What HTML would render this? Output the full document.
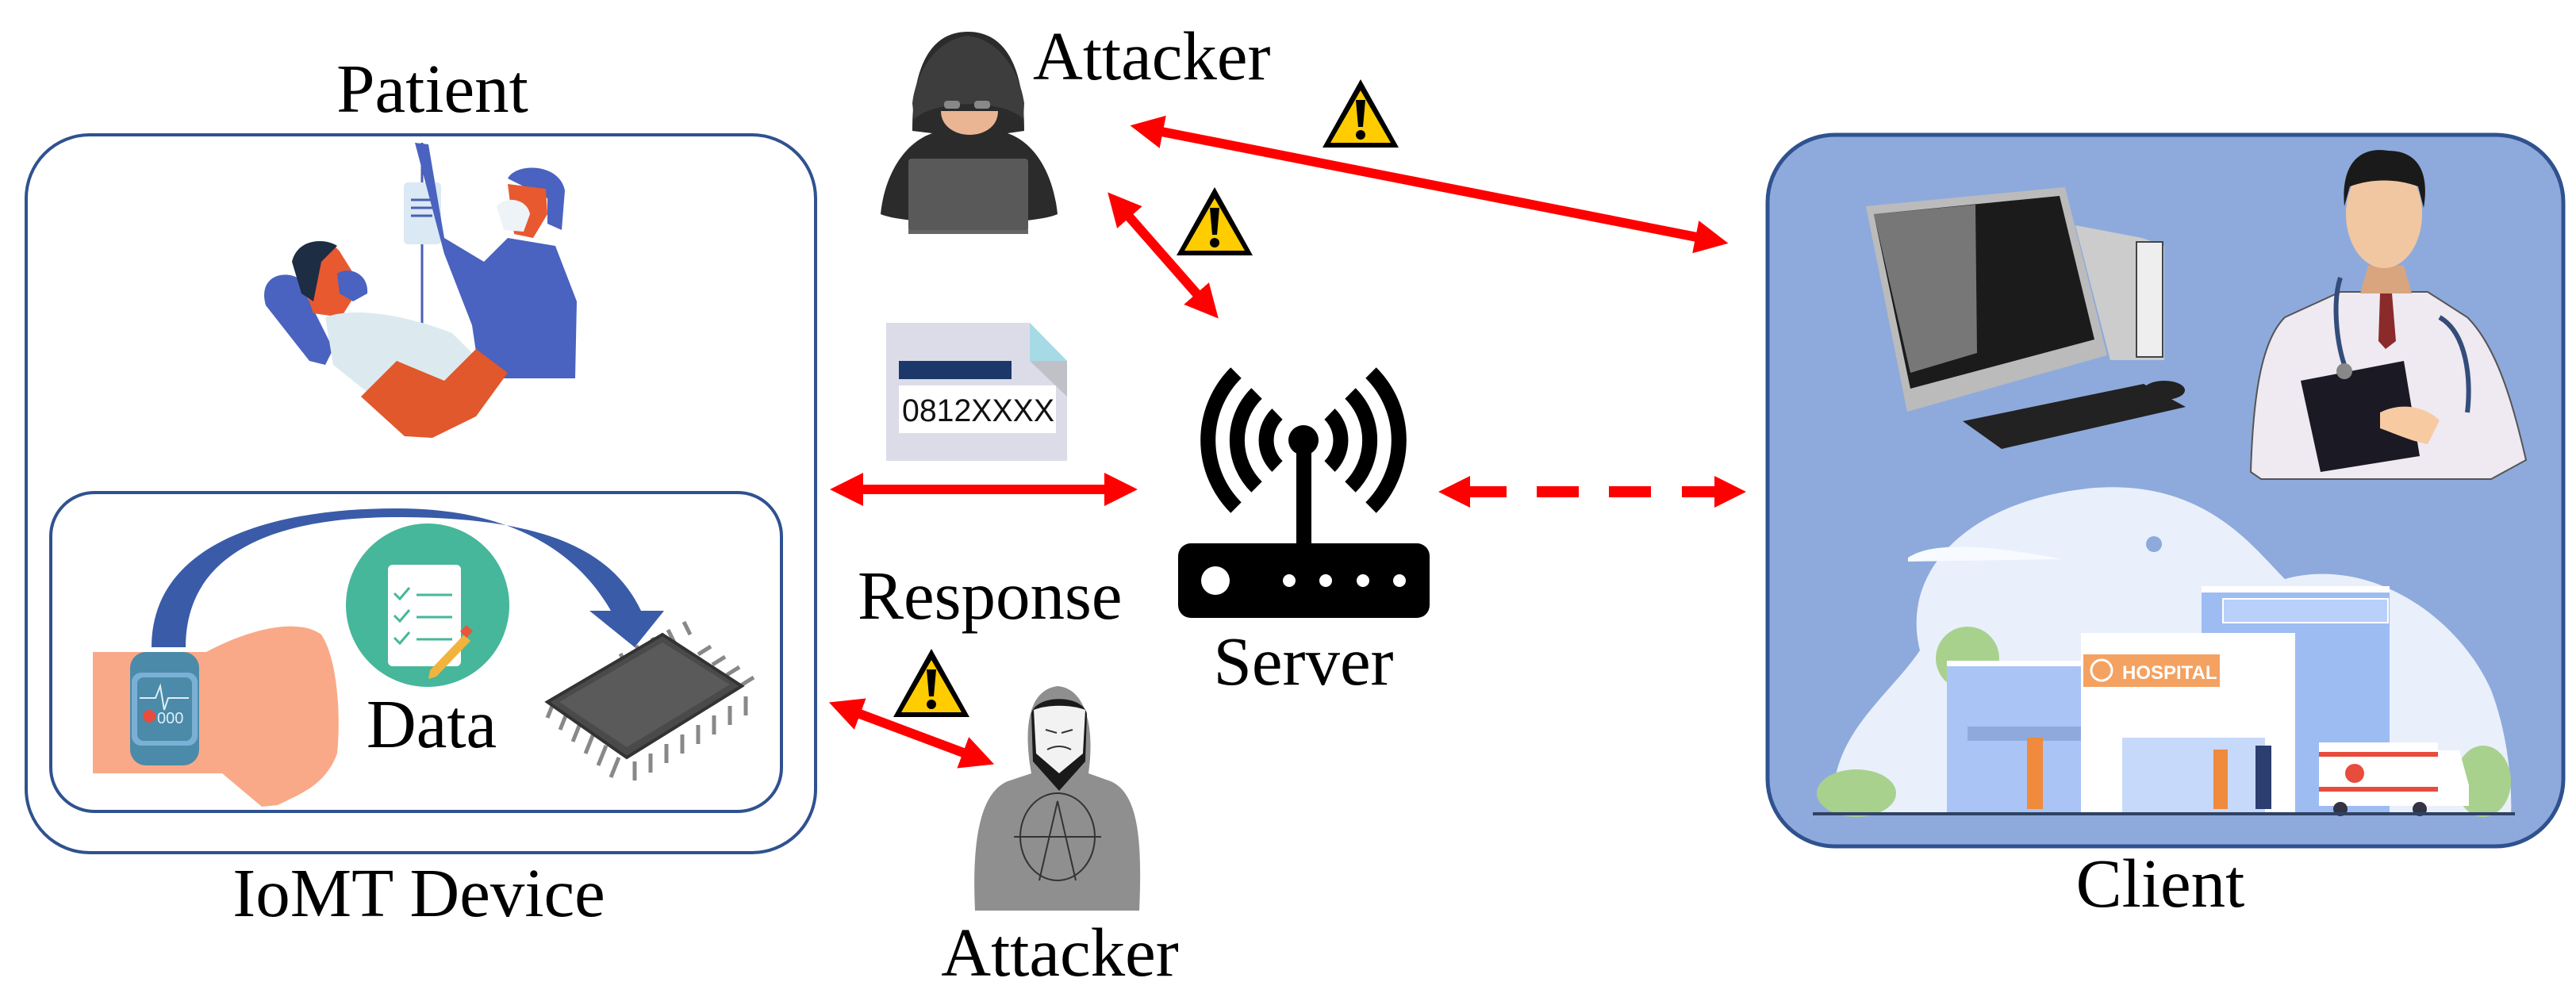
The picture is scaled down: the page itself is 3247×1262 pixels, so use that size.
<!DOCTYPE html>
<html><head><meta charset="utf-8"><style>
html,body{margin:0;padding:0;background:#fff;}
svg{display:block;}
text{font-family:"Liberation Serif",serif;}
</style></head><body>
<svg width="3247" height="1262" viewBox="0 0 3247 1262" xmlns="http://www.w3.org/2000/svg">
<defs>
<marker id="ah" markerUnits="userSpaceOnUse" markerWidth="44" markerHeight="44" refX="12" refY="21" orient="auto-start-reverse">
<path d="M0,0 L42,21 L0,42 z" fill="#ff0000"/>
</marker>
<g id="warn">
<polygon points="0,-44 48,42 -48,42" fill="#000"/>
<polygon points="0,-30 38,36 -38,36" fill="#ffcc00"/>
<path d="M-6,-18 L6,-18 L3,16 L-3,16 z" fill="#000"/>
<circle cx="0" cy="26" r="6" fill="#000"/>
</g>
</defs>

<!-- LEFT BOX -->
<rect x="33" y="170" width="995" height="905" rx="80" fill="none" stroke="#2f528f" stroke-width="4"/>
<rect x="64" y="621" width="921" height="402" rx="55" fill="none" stroke="#2f528f" stroke-width="4"/>

<!-- patient illustration -->
<line x1="532" y1="180" x2="532" y2="414" stroke="#4a5fb5" stroke-width="3"/>
<rect x="509" y="230" width="47" height="78" rx="5" fill="#dbe9f4"/>
<line x1="518" y1="252" x2="545" y2="252" stroke="#4a5fb5" stroke-width="3"/>
<line x1="518" y1="262" x2="545" y2="262" stroke="#4a5fb5" stroke-width="3"/>
<line x1="518" y1="272" x2="545" y2="272" stroke="#4a5fb5" stroke-width="3"/>
<path d="M523,180 L540,182 L560,300 L610,330 L640,300 L700,310 L727,380 L725,477 L605,477 L595,410 L560,320 Z" fill="#4a62c0"/>
<path d="M640,225 C650,205 705,205 712,240 L708,290 L690,282 L690,250 Z" fill="#4a62c0"/>
<path d="M640,232 L688,238 L690,270 L672,300 L648,295 Z" fill="#e8592f"/>
<path d="M626,260 C640,245 665,252 668,270 L660,292 L635,290 Z" fill="#eef3f7"/>
<path d="M335,385 C325,350 355,340 375,350 L420,440 L410,460 L390,455 Z" fill="#4a62c0"/>
<path d="M372,330 C380,300 420,300 430,320 L455,360 L430,400 L395,395 Z" fill="#e8592f"/>
<path d="M368,330 C375,300 410,300 425,310 L405,330 L395,380 L380,370 Z" fill="#1c2d44"/>
<path d="M425,345 C440,335 465,345 463,370 L445,380 L428,370 Z" fill="#4a62c0"/>
<path d="M410,400 C450,385 520,400 570,420 L600,450 L590,500 L470,500 L420,460 Z" fill="#dceaf0"/>
<path d="M455,500 L500,455 L560,480 L600,440 L640,470 L600,525 L545,552 L510,550 Z" fill="#e0582b"/>

<!-- blue arc arrow -->
<path d="M191,816 C191,690 330,641 500,641 C650,641 730,700 770,770 L743,770 L800,816 L837,770 L808,770 C770,690 680,652 500,652 C340,652 234,700 234,816 Z" fill="#3a5ba8"/>
<!-- green circle -->
<circle cx="539" cy="763" r="103" fill="#46b79a"/>
<rect x="489" y="712" width="92" height="128" rx="6" fill="#fff"/>
<g stroke="#46b79a" stroke-width="3" fill="none">
<path d="M497,748 l7,7 l12,-14"/><path d="M497,776 l7,7 l12,-14"/><path d="M497,804 l7,7 l12,-14"/>
<line x1="525" y1="750" x2="570" y2="750"/><line x1="525" y1="778" x2="570" y2="778"/><line x1="525" y1="806" x2="570" y2="806"/>
</g>
<path d="M542,845 L585,800 L593,808 L550,853 L540,856 Z" fill="#f2b33d"/>
<path d="M580,796 L588,788 L596,796 L588,804 Z" fill="#e8553a"/>
<!-- arm with watch -->
<path d="M117,822 L260,822 C300,800 370,775 405,800 C425,830 430,900 425,950 C410,990 380,1000 350,1015 L330,1017 L280,975 L117,975 Z" fill="#f9a987"/>
<rect x="164" y="822" width="87" height="143" rx="20" fill="#4b8aa8"/>
<rect x="166" y="848" width="83" height="92" rx="12" fill="#7bb0d6"/>
<rect x="173" y="854" width="69" height="80" rx="8" fill="#4b8aa8"/>
<path d="M176,880 L196,880 L202,865 L207,895 L212,880 L238,880" stroke="#dfeef7" stroke-width="2" fill="none"/>
<circle cx="188" cy="903" r="8" fill="#e74c3c"/>
<text x="198" y="912" style="font-family:'Liberation Sans',sans-serif" font-size="20" fill="#dfeef7">000</text>
<!-- chip -->
<g stroke="#888" stroke-width="5" fill="none">
<path d="M700,880 l-10,25 M716,895 l-10,25 M732,910 l-10,25 M748,925 l-10,25 M764,940 l-10,25 M780,955 l-10,25"/>
<path d="M800,960 l0,24 M820,950 l0,24 M840,938 l0,24 M860,926 l0,24 M880,914 l0,24 M900,902 l0,24 M920,890 l0,24 M940,878 l0,24"/>
<path d="M790,840 l-8,-16 M810,830 l-8,-16 M830,820 l-8,-16 M850,810 l-8,-16 M870,800 l-8,-16"/>
<path d="M880,825 l16,-10 M898,838 l16,-10 M916,851 l16,-10 M934,864 l16,-10"/>
</g>
<polygon points="690,885 835,800 935,865 790,955" fill="#4a4a4a" stroke="#333" stroke-width="4"/>
<polygon points="705,885 835,810 920,863 790,942" fill="#5a5a5a"/>

<!-- texts left -->
<text x="545" y="141" font-size="87" text-anchor="middle">Patient</text>
<text x="544" y="942" font-size="87" text-anchor="middle">Data</text>
<text x="528" y="1155" font-size="87" text-anchor="middle">IoMT Device</text>

<!-- TOP ATTACKER -->
<path d="M1110,270 C1115,220 1140,180 1175,168 L1150,165 C1150,80 1175,40 1220,40 C1265,40 1291,80 1291,165 L1270,168 C1305,180 1328,220 1333,270 C1300,285 1145,285 1110,270 Z" fill="#2b2b2b"/>
<path d="M1152,150 C1180,125 1265,125 1290,150 L1291,130 C1285,90 1260,50 1220,45 C1180,50 1155,90 1150,130 Z" fill="#3d3d3d"/>
<path d="M1186,140 C1186,160 1205,170 1222,170 C1240,170 1258,160 1258,140 Z" fill="#e9b592"/>
<rect x="1190" y="127" width="20" height="10" rx="4" fill="#888"/>
<rect x="1228" y="127" width="20" height="10" rx="4" fill="#888"/>
<rect x="1145" y="200" width="151" height="92" rx="4" fill="#595959"/>
<rect x="1145" y="290" width="151" height="5" fill="#666"/>
<text x="1302" y="100" font-size="87">Attacker</text>

<!-- card -->
<path d="M1117,407 L1298,407 L1345,455 L1345,581 L1117,581 Z" fill="#dcdce9"/>
<path d="M1298,407 L1345,455 L1298,455 Z" fill="#a6dbe6"/>
<path d="M1298,455 L1345,455 L1345,500 Z" fill="#c0c0c8"/>
<rect x="1133" y="455" width="142" height="23" fill="#1c3769"/>
<rect x="1133" y="486" width="198" height="60" fill="#fff"/>
<text x="1137" y="531" style="font-family:'Liberation Sans',sans-serif" font-size="40" textLength="192" lengthAdjust="spacingAndGlyphs" fill="#111">0812XXXX</text>

<!-- ROUTER -->
<g fill="none" stroke="#000" stroke-width="19">
<path d="M1610,588 A46,46 0 0 1 1610,522"/><path d="M1676,522 A46,46 0 0 1 1676,588"/>
<path d="M1584,614 A83,83 0 0 1 1584,496"/><path d="M1702,496 A83,83 0 0 1 1702,614"/>
<path d="M1558,640 A120,120 0 0 1 1558,470"/><path d="M1728,470 A120,120 0 0 1 1728,640"/>
</g>
<circle cx="1643" cy="555" r="19" fill="#000"/>
<rect x="1634" y="560" width="19" height="130" fill="#000"/>
<rect x="1485" y="685" width="317" height="94" rx="16" fill="#000"/>
<circle cx="1532" cy="732" r="18" fill="#fff"/>
<circle cx="1625" cy="732" r="8" fill="#fff"/><circle cx="1671" cy="732" r="8" fill="#fff"/>
<circle cx="1718" cy="732" r="8" fill="#fff"/><circle cx="1764" cy="732" r="8" fill="#fff"/>
<text x="1643" y="863" font-size="87" text-anchor="middle">Server</text>
<text x="1081" y="780" font-size="87">Response</text>

<!-- BOTTOM ATTACKER -->
<path d="M1229,1148 C1225,1060 1235,1000 1270,985 L1300,975 C1290,920 1295,870 1333,865 C1370,868 1380,920 1372,975 L1400,985 C1435,1000 1440,1060 1436,1148 Z" fill="#8f8f8f"/>
<path d="M1300,900 C1305,875 1365,875 1370,900 L1368,960 L1335,997 L1302,960 Z" fill="#1a1a1a"/>
<path d="M1303,895 C1320,888 1350,888 1368,895 L1365,950 L1335,975 L1306,950 Z" fill="#f2f2f2"/>
<path d="M1318,920 l14,4 M1352,920 l-14,4 M1320,945 q15,-8 30,0" stroke="#333" stroke-width="2" fill="none"/>
<ellipse cx="1333" cy="1055" rx="47" ry="55" fill="none" stroke="#333" stroke-width="2"/>
<path d="M1310,1110 L1333,1010 L1356,1110 M1278,1055 L1388,1055" stroke="#333" stroke-width="2" fill="none"/>
<text x="1336" y="1230" font-size="87" text-anchor="middle">Attacker</text>

<!-- ARROWS -->
<g stroke="#ff0000" stroke-width="12" fill="none" marker-start="url(#ah)" marker-end="url(#ah)">
<line x1="1454" y1="164" x2="2149" y2="301"/>
<line x1="1416" y1="265" x2="1516" y2="379"/>
<line x1="1076" y1="617" x2="1404" y2="617"/>
<line x1="1073" y1="896" x2="1225" y2="953"/>
</g>
<!-- dashed arrow -->
<g fill="#ff0000">
<polygon points="1813,620 1853,600 1853,640"/>
<rect x="1852" y="613" width="47" height="14"/>
<rect x="1937" y="613" width="53" height="14"/>
<rect x="2028" y="613" width="53" height="14"/>
<rect x="2120" y="613" width="42" height="14"/>
<polygon points="2201,620 2161,600 2161,640"/>
</g>

<!-- WARNINGS -->
<use href="#warn" x="1715" y="144"/>
<use href="#warn" x="1531" y="280"/>
<use href="#warn" x="1174" y="862"/>

<!-- RIGHT BOX -->
<rect x="2228" y="170" width="1003" height="897" rx="85" fill="#8eaadc" stroke="#2f528f" stroke-width="5"/>
<!-- cloud blob -->
<path d="M2312,1027 C2300,930 2380,880 2420,820 C2395,720 2480,630 2640,615 C2780,605 2840,690 2880,730 C2990,700 3100,780 3140,870 C3170,950 3165,1027 3165,1027 Z" fill="#e9f0fc"/>
<path d="M2405,703 C2440,680 2520,690 2600,705 L2405,708 Z" fill="#f7faff"/>
<circle cx="2715" cy="686" r="10" fill="#8eaadc"/>
<!-- greenery -->
<ellipse cx="2340" cy="1000" rx="50" ry="30" fill="#a9d18e"/>
<ellipse cx="2480" cy="830" rx="40" ry="40" fill="#a9d18e"/>
<ellipse cx="3130" cy="985" rx="35" ry="45" fill="#a9d18e"/>
<!-- buildings -->
<rect x="2775" y="739" width="237" height="287" fill="#9dbcf2"/>
<rect x="2775" y="739" width="237" height="8" fill="#fff"/>
<rect x="2802" y="755" width="208" height="30" fill="#b8d0fa" stroke="#fff" stroke-width="2"/>
<rect x="2454" y="833" width="172" height="193" fill="#a9c4f5"/>
<rect x="2454" y="833" width="172" height="7" fill="#fff"/>
<rect x="2480" y="916" width="146" height="18" fill="#8eaadc"/>
<rect x="2623" y="798" width="270" height="228" fill="#fff"/>
<rect x="2626" y="825" width="172" height="41" fill="#f4a261"/>
<circle cx="2649" cy="845" r="13" fill="none" stroke="#fff" stroke-width="3"/>
<text x="2675" y="856" style="font-family:'Liberation Sans',sans-serif" font-weight="bold" font-size="24" fill="#fff">HOSPITAL</text>
<rect x="2675" y="930" width="180" height="96" fill="#c6d9fb"/>
<rect x="2923" y="936" width="150" height="80" fill="#fff"/>
<path d="M3073,946 L3100,946 L3112,990 L3112,1016 L3073,1016 Z" fill="#fff"/>
<rect x="2923" y="948" width="150" height="6" fill="#e74c3c"/>
<rect x="2923" y="992" width="150" height="6" fill="#e74c3c"/>
<circle cx="2968" cy="975" r="12" fill="#e74c3c"/>
<circle cx="2950" cy="1020" r="9" fill="#334"/><circle cx="3050" cy="1020" r="9" fill="#334"/>
<!-- people -->
<rect x="2555" y="930" width="20" height="90" fill="#f08a3c"/>
<rect x="2790" y="945" width="18" height="75" fill="#f08a3c"/>
<rect x="2843" y="940" width="20" height="80" fill="#2c3e70"/>
<rect x="2285" y="1024" width="885" height="4" fill="#2f4264"/>
<!-- computer -->
<polygon points="2352,260 2603,236 2656,448 2404,519" fill="#bbb"/>
<polygon points="2362,270 2596,247 2640,428 2408,490" fill="#1b1b1b"/>
<polygon points="2362,270 2490,258 2492,445 2408,470" fill="#777"/>
<polygon points="2616,284 2700,300 2728,310 2728,454 2660,454" fill="#ccc"/>
<rect x="2693" y="305" width="33" height="145" fill="#eee" stroke="#444" stroke-width="2"/>
<polygon points="2474,531 2702,484 2755,513 2523,566" fill="#222"/>
<ellipse cx="2728" cy="492" rx="26" ry="12" fill="#222"/>
<!-- doctor -->
<path d="M2837,595 C2840,500 2850,430 2880,400 L2950,368 L3060,368 L3110,400 C3150,440 3170,520 3184,580 L3140,604 L2850,604 Z" fill="#efe9f2" stroke="#555" stroke-width="2"/>
<path d="M2985,335 L3030,335 L3040,370 L2975,370 Z" fill="#d9a57f"/>
<path d="M3000,370 L3015,370 L3020,430 L3007,440 L2998,430 Z" fill="#8b2a2a"/>
<ellipse cx="3005" cy="270" rx="48" ry="68" fill="#f1c7a1"/>
<path d="M2955,260 C2950,200 2980,185 3010,190 C3050,190 3062,220 3055,262 L3048,235 C3020,225 2990,225 2962,235 Z" fill="#1a1a1a"/>
<path d="M2900,480 L3030,455 L3050,575 L2925,595 Z" fill="#1b1a24"/>
<path d="M3000,520 C3030,505 3060,515 3075,530 L3060,560 C3035,555 3015,545 3000,540 Z" fill="#f7caa2"/>
<path d="M2950,350 C2940,380 2945,430 2955,460" stroke="#334d7a" stroke-width="6" fill="none"/>
<circle cx="2955" cy="468" r="10" fill="#888"/>
<path d="M3075,400 C3110,420 3115,480 3110,520" stroke="#334d7a" stroke-width="6" fill="none"/>
<text x="2723" y="1143" font-size="87" text-anchor="middle">Client</text>
</svg>
</body></html>
